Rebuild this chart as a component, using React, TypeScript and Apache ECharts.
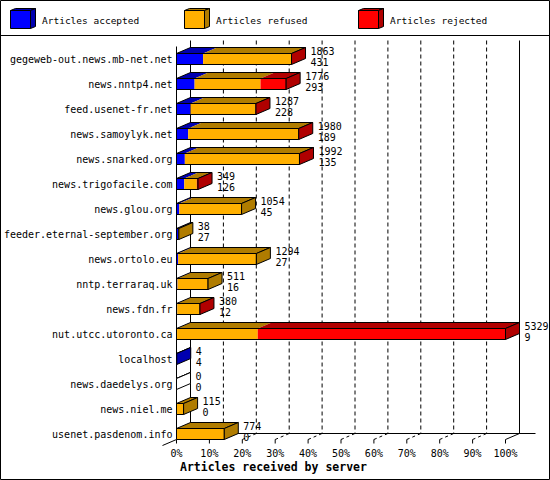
import React, { useEffect, useRef } from 'react';
import * as echarts from 'echarts';

// servers, top to bottom
const hosts = [
  'gegeweb-out.news.mb-net.net',
  'news.nntp4.net',
  'feed.usenet-fr.net',
  'news.samoylyk.net',
  'news.snarked.org',
  'news.trigofacile.com',
  'news.glou.org',
  'feeder.eternal-september.org',
  'news.ortolo.eu',
  'nntp.terraraq.uk',
  'news.fdn.fr',
  'nut.utcc.utoronto.ca',
  'localhost',
  'news.daedelys.org',
  'news.niel.me',
  'usenet.pasdenom.info',
];
const totals = [1863, 1776, 1287, 1980, 1992, 349, 1054, 38, 1294, 511, 380, 5329, 4, 0, 115, 774];
const accepted = [431, 293, 228, 189, 135, 126, 45, 27, 27, 16, 12, 9, 4, 0, 0, 0];
const refused = [1424, 1068, 1055, 1785, 1852, 203, 1009, 11, 1267, 495, 362, 1307, 0, 0, 115, 774];
const rejected = [8, 415, 4, 6, 5, 20, 0, 0, 0, 0, 6, 4013, 0, 0, 0, 0];

const FONT = '"DejaVu Sans Mono", monospace';
const DX = 14;
const DY = 6;
const faces = [
  { name: 'Articles accepted', front: '#0000ff', dark: '#0000b0' },
  { name: 'Articles refused', front: '#ffb000', dark: '#b07c00' },
  { name: 'Articles rejected', front: '#ff0000', dark: '#b00000' },
];

const App: React.FC = () => {
  const chartRef = useRef<HTMLDivElement>(null);

  useEffect(() => {
    if (!chartRef.current) return;
    const chart = echarts.init(chartRef.current, null, { renderer: 'svg' });

    const maxTotal = Math.max(...totals);
    const pct = (v: number) => (v / maxTotal) * 100;
    const rows = hosts.map((_, i) => [
      i,
      pct(accepted[i]),
      pct(refused[i]),
      pct(rejected[i]),
      totals[i],
      accepted[i],
    ]);

    const line = (x1: number, y1: number, x2: number, y2: number, dash?: number[]) => ({
      type: 'line',
      shape: { x1, y1, x2, y2 },
      style: { stroke: '#000', lineWidth: 1, lineDash: dash },
    });

    // legend boxes drawn as little 3D cubes
    const legend: any[] = [];
    faces.forEach((f, k) => {
      const x = 10.5 + 174 * k;
      legend.push({
        type: 'polygon',
        shape: { points: [[x, 10.5], [x + 20, 10.5], [x + 25, 8.5], [x + 5, 8.5]] },
        style: { fill: f.dark, stroke: '#000', lineWidth: 1 },
      });
      legend.push({
        type: 'polygon',
        shape: { points: [[x + 20, 10.5], [x + 25, 8.5], [x + 25, 26.5], [x + 20, 28.5]] },
        style: { fill: f.dark, stroke: '#000', lineWidth: 1 },
      });
      legend.push({
        type: 'rect',
        shape: { x, y: 10.5, width: 20, height: 18 },
        style: { fill: f.front, stroke: '#000', lineWidth: 1 },
      });
      legend.push({
        type: 'text',
        x: x + 31.5,
        y: 20,
        style: { text: f.name, fontFamily: FONT, fontSize: 9.5, fill: '#000', verticalAlign: 'middle' },
      });
    });

    const option: any = {
      animation: false,
      backgroundColor: '#fff',
      title: {
        text: 'Articles received by server',
        left: 180,
        top: 461,
        padding: 0,
        textStyle: { fontFamily: FONT, fontSize: 11.5, fontWeight: 'bold', color: '#000' },
      },
      grid: { left: 176.5, top: 46.5, width: 329, height: 400 },
      xAxis: {
        type: 'value',
        min: 0,
        max: 100,
        interval: 10,
        axisLine: { show: false },
        axisTick: { show: false },
        splitLine: { show: false },
        axisLabel: { formatter: '{value}%', margin: 2, fontFamily: FONT, fontSize: 10, color: '#000' },
      },
      yAxis: {
        type: 'category',
        inverse: true,
        data: hosts,
        axisLine: { show: false },
        axisTick: { show: false },
        splitLine: { show: false },
        axisLabel: { interval: 0, margin: 4, fontFamily: FONT, fontSize: 10, color: '#000' },
      },
      graphic: [
        {
          type: 'rect',
          shape: { x: 0.5, y: 0.5, width: 549, height: 479 },
          style: { fill: 'none', stroke: '#000', lineWidth: 1 },
          z: 100,
        },
        { ...line(0, 35.5, 550, 35.5), z: 100 },
        ...legend,
      ],
      series: [
        {
          // walls, floor and grid
          type: 'custom',
          silent: true,
          z: 1,
          data: [[0, 0]],
          encode: { x: 0, y: 1 },
          renderItem: (_params: any, api: any) => {
            const x = (p: number) => api.coord([p, 0])[0];
            const yT = api.coord([0, 0])[1] - 12.5;
            const yF = api.coord([0, hosts.length - 1])[1] + 5.5;
            const x0 = x(0);
            const x100 = x(100);
            const children: any[] = [
              line(x0, yT, x0, yF),
              line(x0 + DX, yT - DY, x0 + DX, yF - DY),
              line(x100 + DX, yT - DY, x100 + DX, yF - DY),
              line(x0 + DX, yF - DY, x100 + DX + 16, yF - DY),
              line(x100, yF, x100 + DX, yF - DY),
              line(x0, yF, x0 - DX, yF + DY),
            ];
            for (let p = 0; p <= 100; p += 10) {
              const xp = x(p);
              children.push(line(xp, yF, xp, yF + 4));
              if (p > 0 && p < 100) {
                children.push(line(xp + DX, yT - DY, xp + DX, yF - DY, [4, 3]));
                children.push(line(xp, yF, xp + DX, yF - DY, [3, 3]));
              }
            }
            return { type: 'group', children };
          },
        },
        {
          type: 'custom',
          z: 2,
          data: rows,
          encode: { x: [1, 2, 3], y: 0 },
          renderItem: (_params: any, api: any) => {
            const i = api.value(0);
            const vals = [api.value(1), api.value(2), api.value(3)];
            const [x0, yc] = api.coord([0, i]);
            const yt = yc - 5.5;
            const yb = yc + 5.5;
            const children: any[] = [];
            let cum = 0;
            let last = -1;
            let xa = x0;
            vals.forEach((v: number, k: number) => {
              if (v <= 0) return;
              cum += v;
              const xb = api.coord([cum, i])[0];
              children.push({
                type: 'polygon',
                shape: { points: [[xa, yt], [xb, yt], [xb + DX, yt - DY], [xa + DX, yt - DY]] },
                style: { fill: faces[k].dark },
              });
              children.push({
                type: 'rect',
                shape: { x: xa, y: yt, width: xb - xa, height: yb - yt },
                style: { fill: faces[k].front },
              });
              xa = xb;
              last = k;
            });
            const xr = xa;
            children.push({
              type: 'polygon',
              shape: { points: [[x0, yt], [xr, yt], [xr + DX, yt - DY], [x0 + DX, yt - DY]] },
              style: { fill: 'none', stroke: '#000', lineWidth: 1 },
            });
            children.push({
              type: 'rect',
              shape: { x: x0, y: yt, width: xr - x0, height: yb - yt },
              style: { fill: 'none', stroke: '#000', lineWidth: 1 },
            });
            children.push({
              type: 'polygon',
              shape: { points: [[xr, yt], [xr + DX, yt - DY], [xr + DX, yb - DY], [xr, yb]] },
              style: { fill: last >= 0 ? faces[last].dark : '#fff', stroke: '#000', lineWidth: 1 },
            });
            const tx = xr + DX + 5;
            children.push({
              type: 'text',
              x: tx,
              y: yc - 8,
              style: { text: String(api.value(4)), fontFamily: FONT, fontSize: 10, fill: '#000', verticalAlign: 'middle' },
            });
            children.push({
              type: 'text',
              x: tx,
              y: yc + 3,
              style: { text: String(api.value(5)), fontFamily: FONT, fontSize: 10, fill: '#000', verticalAlign: 'middle' },
            });
            return { type: 'group', children };
          },
        },
      ],
    };

    chart.setOption(option);

    return () => {
      chart.dispose();
    };
  }, []);

  return (
    <div
      ref={chartRef}
      style={{ position: 'fixed', left: 0, top: 0, width: '550px', height: '480px', background: '#fff' }}
    />
  );
};

export default App;
